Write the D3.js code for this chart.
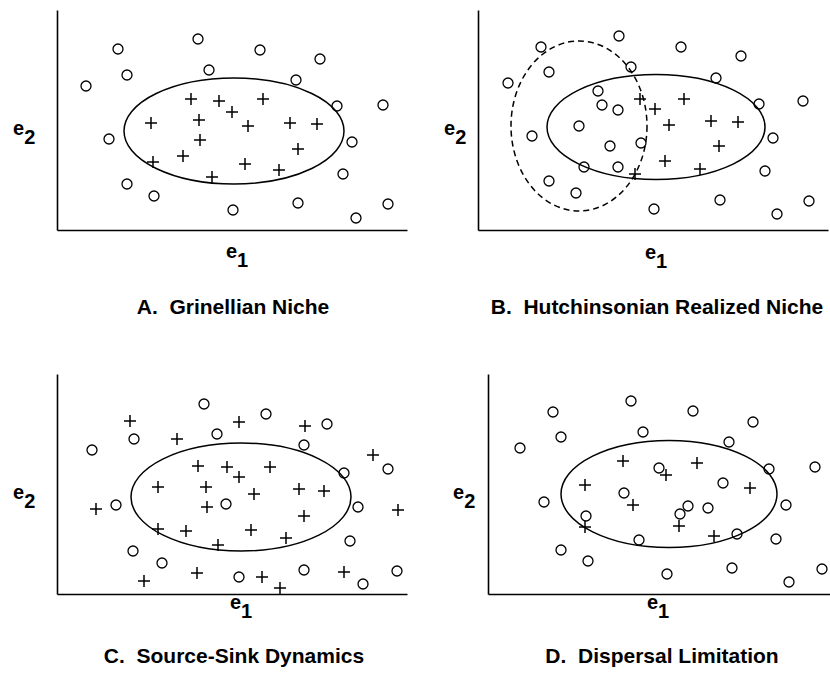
<!DOCTYPE html>
<html><head><meta charset="utf-8">
<script src="https://cdn.jsdelivr.net/npm/d3@7"></script>
<style>body{margin:0;background:#fff}svg text{font-family:"Liberation Sans",Arial,sans-serif;font-weight:bold;fill:#000}</style>
</head><body>
<svg id="c" width="830" height="679"></svg>
<script>
// Data: e1, e2 values (arbitrary units, domain 0-350 x 0-220)
const titles = ["A.  Grinellian Niche", "B.  Hutchinsonian Realized Niche", "C.  Source-Sink Dynamics", "D.  Dispersal Limitation"];

const A_circles = [[141,191],[61,181],[70,155],[152,160],[29,144],[52,91],[70,46],[97,34],[176,20],[203,180],[263,171],[239,150],[280,124],[326,125],[295,88],[286,56],[241,27],[299,12],[331,26]];
const A_pluses = [[134,131],[162,129],[175,118],[94,107],[142,110],[143,90],[126,74],[96,68],[155,53],[206,131],[191,104],[233,107],[260,106],[241,81],[188,66],[222,60]];
const A_ellipses = [{cx:177, cy:99, rx:110, ry:53, dashed:false}];

const B_circles = [[141,194],[63,183],[153,163],[71,158],[30,147],[120,139],[124,125],[140,120],[101,104],[54,94],[132,84],[106,63],[140,63],[71,49],[98,37],[203,183],[263,174],[238,152],[281,126],[325,129],[163,87],[295,92],[287,59],[176,21],[242,30],[299,16],[331,29]];
const B_pluses = [[162,131],[177,121],[206,131],[191,105],[233,109],[260,108],[241,84],[187,69],[222,61],[157,56]];
const B_ellipses = [{cx:178, cy:103, rx:109, ry:52.5, dashed:false},{cx:101, cy:104, rx:68, ry:85, dashed:true}];

const C_circles = [[147,190],[77,155],[160,160],[35,144],[59,89],[169,90],[76,43],[105,31],[209,180],[270,170],[247,149],[287,121],[331,125],[301,87],[293,53],[182,17],[247,24],[306,10],[340,23]];
const C_pluses = [[73,173],[120,155],[182,172],[141,128],[170,127],[101,107],[149,107],[150,87],[39,85],[101,65],[129,63],[161,49],[140,21],[87,13],[248,168],[316,139],[182,117],[213,127],[197,100],[242,105],[267,103],[247,78],[341,84],[194,64],[229,56],[205,17],[223,6],[287,22]];
const C_ellipses = [{cx:184, cy:97, rx:110, ry:54, dashed:false}];

const D_circles = [[143,193],[65,182],[155,162],[73,157],[32,146],[136,101],[56,92],[98,78],[151,54],[73,44],[100,33],[205,183],[265,172],[241,152],[281,125],[327,127],[171,126],[235,111],[200,88],[220,86],[192,80],[298,89],[249,60],[288,55],[179,20],[244,26],[301,12],[334,25]];
const D_pluses = [[135,133],[97,109],[145,89],[97,67],[209,131],[178,119],[262,106],[191,68],[226,58]];
const D_ellipses = [{cx:181, cy:100, rx:108, ry:53.5, dashed:false}];

const svg = d3.select("#c");
const PW = 350, PH = 220;
const panels = [
  {left:57, top:10, circles:A_circles, pluses:A_pluses, ellipses:A_ellipses, title:titles[0], tx:233, ty:314, e1:[237,258], e2:[13,135]},
  {left:478, top:10, circles:B_circles, pluses:B_pluses, ellipses:B_ellipses, title:titles[1], tx:657, ty:314, e1:[656,259], e2:[444,135]},
  {left:57, top:374, circles:C_circles, pluses:C_pluses, ellipses:C_ellipses, title:titles[2], tx:234, ty:663, e1:[241,609], e2:[13,499]},
  {left:488, top:374, circles:D_circles, pluses:D_pluses, ellipses:D_ellipses, title:titles[3], tx:662, ty:663, e1:[658,609], e2:[453,499]}
];

panels.forEach(p => {
  const x = d3.scaleLinear().domain([0, 350]).range([p.left, p.left + PW]);
  const y = d3.scaleLinear().domain([0, 220]).range([p.top + PH, p.top]);
  const g = svg.append("g");

  // axes (domain lines only)
  g.append("g").attr("transform", `translate(0,${y(0)})`)
    .call(d3.axisBottom(x).ticks(0).tickSizeOuter(0))
    .call(s => s.select(".domain").attr("stroke", "#000").attr("stroke-width", 1.6));
  g.append("g").attr("transform", `translate(${x(0)},0)`)
    .call(d3.axisLeft(y).ticks(0).tickSizeOuter(0))
    .call(s => s.select(".domain").attr("stroke", "#000").attr("stroke-width", 1.6));

  // ellipses
  g.selectAll("ellipse.e").data(p.ellipses).join("ellipse")
    .attr("cx", d => x(d.cx)).attr("cy", d => y(d.cy))
    .attr("rx", d => x(d.cx + d.rx) - x(d.cx)).attr("ry", d => y(d.cy) - y(d.cy + d.ry))
    .attr("fill", "none").attr("stroke", "#000").attr("stroke-width", 1.5)
    .attr("stroke-dasharray", d => d.dashed ? "6,4" : null);

  // circles
  g.selectAll("circle.o").data(p.circles).join("circle")
    .attr("cx", d => x(d[0])).attr("cy", d => y(d[1])).attr("r", 5)
    .attr("fill", "none").attr("stroke", "#000").attr("stroke-width", 1.3);

  // pluses
  g.selectAll("path.p").data(p.pluses).join("path")
    .attr("transform", d => `translate(${x(d[0])},${y(d[1])})`)
    .attr("d", "M-6,0H6M0,-6V6")
    .attr("stroke", "#000").attr("stroke-width", 1.5).attr("fill", "none");

  // axis labels
  const t1 = svg.append("text").attr("x", p.e1[0]).attr("y", p.e1[1]).attr("font-size", 20).attr("text-anchor", "middle");
  t1.append("tspan").text("e");
  t1.append("tspan").attr("dy", 9).text("1");
  const t2 = svg.append("text").attr("x", p.e2[0]).attr("y", p.e2[1]).attr("font-size", 20);
  t2.append("tspan").text("e");
  t2.append("tspan").attr("dy", 9).text("2");

  // title
  svg.append("text").attr("x", p.tx).attr("y", p.ty).attr("font-size", 21)
    .attr("text-anchor", "middle").style("white-space", "pre").text(p.title);
});
</script>
</body></html>
